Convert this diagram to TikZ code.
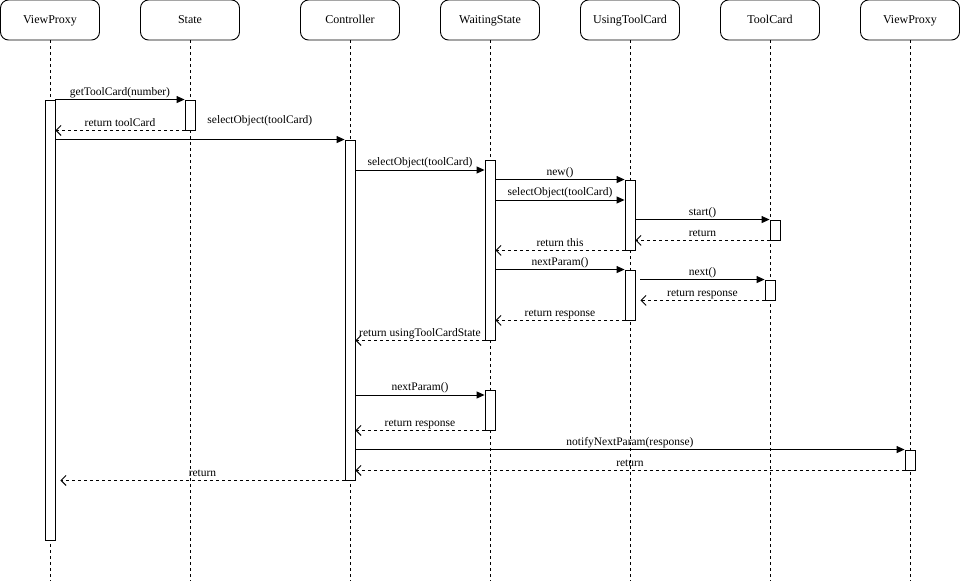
\documentclass[tikz,border=0pt]{standalone}
\usepackage{fontspec}
\setmainfont{Liberation Serif}
\usetikzlibrary{arrows.meta,calc}

\begin{document}
\begin{tikzpicture}[x=1pt, y=-1pt, line width=0.9pt,
        head/.style={draw, rounded corners=8pt, minimum width=99pt, minimum height=40pt, inner sep=0pt, text height=8pt, text depth=1pt, font=\fontsize{12}{14}\selectfont},
        life/.style={dash pattern=on 3pt off 3pt},
        actbar/.style={draw, fill=white, minimum width=10pt, inner sep=0pt},
        call/.style={-{Triangle[length=8pt,width=7pt]}},
        reply/.style={dash pattern=on 3pt off 3pt, -{Straight Barb[length=5pt,width=10pt]}},
        msg/.style={inner sep=0pt, text height=8pt, text depth=2.5pt, above=1.5pt, font=\fontsize{11.5}{13}\selectfont}]
        % Canvas
        \fill[white] (0,0) rectangle (961,581);
        \useasboundingbox (0,0) rectangle (961,581);
        \coordinate (bot) at (0,581); % bottom of lifelines
        
        % Lifeline heads
        \node[head] (vp1) at (50,20) {ViewProxy};
        \node[head] (st) at (190,20) {State};
        \node[head] (ctrl) at (350,20) {Controller};
        \node[head] (ws) at (490,20) {WaitingState};
        \node[head] (utc) at (630,20) {UsingToolCard};
        \node[head] (tc) at (770,20) {ToolCard};
        \node[head] (vp2) at (910,20) {ViewProxy};
        
        % Dashed lifelines
        \foreach \h in {vp1,st,ctrl,ws,utc,tc,vp2}
            \draw[life] (\h.south) -- (\h.south |- bot);
        
        % Activation bars
        \node[actbar, minimum height=440pt] (vpA) at (50,320) {};  % ViewProxy
        \node[actbar, minimum height=30pt] (stA) at (190,115) {};  % State
        \node[actbar, minimum height=340pt] (ctA) at (350,310) {}; % Controller
        \node[actbar, minimum height=180pt] (wsA) at (490,250) {}; % WaitingState
        \node[actbar, minimum height=40pt] (wsB) at (490,410) {};
        \node[actbar, minimum height=70pt] (ucA) at (630,215) {};  % UsingToolCard
        \node[actbar, minimum height=50pt] (ucB) at (630,295) {};
        \node[actbar, minimum height=20pt] (tcA) at (775,230) {};  % ToolCard
        \node[actbar, minimum height=20pt] (tcB) at (770,290) {};
        \node[actbar, minimum height=20pt] (vpB) at (910,460) {};  % ViewProxy (right)
        
        % Messages
        \draw[call] (vpA.north east) -- node[msg] (m1) {getToolCard(number)} (stA.north west);
        \draw[reply] (stA.south west) -- node[msg] (m2) {return toolCard} (vpA.east |- stA.south);
        \draw[call] (vpA.east |- ctA.north) -- node[msg, pos=0.707, above=12pt] (m3) {selectObject(toolCard)} (ctA.north west);
        \draw[call] (ctA.east |- 0,170) -- node[msg] (m4) {selectObject(toolCard)} (wsA.west |- 0,170);
        \draw[call] (wsA.east |- ucA.north) -- node[msg] (m5) {new()} (ucA.north west);
        \draw[call] (wsA.east |- 0,200) -- node[msg] (m6) {selectObject(toolCard)} (ucA.west |- 0,200);
        \draw[call] (ucA.east |- tcA.north) -- node[msg] (m7) {start()} (tcA.north west);
        \draw[reply] (tcA.south west) -- node[msg] (m8) {return} (ucA.east |- tcA.south);
        \draw[reply] (ucA.south west) -- node[msg] (m9) {return this} (wsA.east |- ucA.south);
        \draw[call] (wsA.east |- ucB.north) -- node[msg] (m10) {nextParam()} (ucB.north west);
        \draw[call] ([xshift=5pt]ucB.east |- tcB.north) -- node[msg] (m11) {next()} (tcB.north west);
        \draw[reply] (tcB.south west) -- node[msg] (m12) {return response} ([xshift=5pt]ucB.east |- tcB.south);
        \draw[reply] (ucB.south west) -- node[msg] (m13) {return response} (wsA.east |- ucB.south);
        \draw[reply] (wsA.south west) -- node[msg] (m14) {return usingToolCardState} (ctA.east |- wsA.south);
        \draw[call] (ctA.east |- 0,395) -- node[msg] (m15) {nextParam()} (wsB.west |- 0,395);
        \draw[reply] (wsB.south west) -- node[msg] (m16) {return response} (ctA.east |- wsB.south);
        \draw[call] (ctA.east |- vpB.north) -- node[msg] (m17) {notifyNextParam(response)} (vpB.north west);
        \draw[reply] (vpB.south west) -- node[msg] (m18) {return} (ctA.east |- vpB.south);
        \draw[reply] (ctA.south west) -- node[msg] (m19) {return} ([xshift=5pt]vpA.east |- ctA.south);
\end{tikzpicture}
\end{document}
